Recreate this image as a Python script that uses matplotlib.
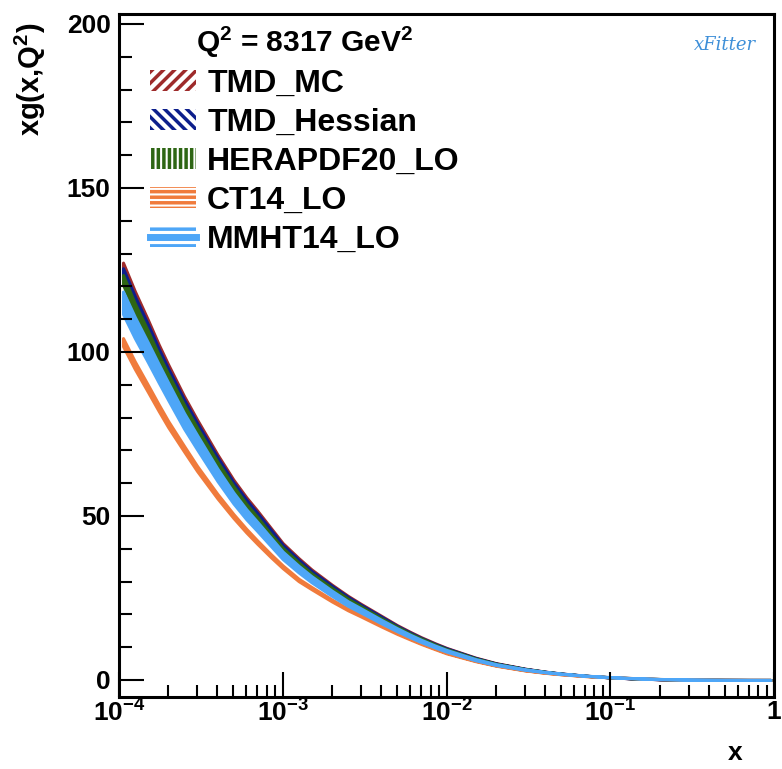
import matplotlib
matplotlib.use('Agg')
import matplotlib.pyplot as plt
from matplotlib.patches import Patch
from matplotlib.lines import Line2D
import numpy as np

plt.rcParams['font.family'] = ['Liberation Sans', 'DejaVu Sans']
plt.rcParams['font.weight'] = 'bold'
plt.rcParams['mathtext.fontset'] = 'custom'
plt.rcParams['mathtext.rm'] = 'Liberation Sans:bold'
plt.rcParams['mathtext.bf'] = 'Liberation Sans:bold'
plt.rcParams['mathtext.it'] = 'Liberation Sans:bold'
plt.rcParams['hatch.linewidth'] = 2.5

# ---- data ----
x_vals = [1.06e-4, 1.25e-4, 1.5e-4, 1.75e-4, 2e-4, 2.5e-4, 3e-4, 4e-4, 5e-4,
          6e-4, 7e-4, 8.5e-4, 1e-3, 1.25e-3, 1.5e-3, 2e-3, 2.5e-3, 3e-3,
          4e-3, 5e-3, 6e-3, 7e-3, 8.5e-3, 1e-2, 1.5e-2, 2e-2, 3e-2, 4e-2,
          5e-2, 7e-2, 0.1, 0.15, 0.2, 0.3, 0.5, 0.7, 0.95]

tmd_mc = [125, 116.5, 108, 100.5, 94.5, 85, 78, 67.5, 60, 54.7, 50.7, 45.4,
          41, 36.5, 33.1, 28.5, 25.2, 22.8, 19.2, 16.4, 14.4, 12.8, 11.0, 9.6,
          6.7, 5.05, 3.4, 2.5, 1.95, 1.3, 0.8, 0.42, 0.25, 0.1, 0.02, 0.0, 0.0]
tmd_hess = [124.3, 115.9, 107.5, 100, 94, 84.6, 77.6, 67.2, 59.7, 54.4, 50.4,
            45.2, 40.8, 36.3, 32.9, 28.4, 25.1, 22.7, 19.1, 16.3, 14.3, 12.7,
            10.9, 9.55, 6.65, 5.0, 3.38, 2.48, 1.93, 1.29, 0.79, 0.41, 0.24,
            0.09, 0.02, 0.0, 0.0]
hera = [122, 113.5, 105.3, 98, 92.2, 82.9, 76, 65.7, 58.4, 53, 49.1, 43.8,
        39.8, 35.4, 32.1, 27.7, 24.5, 22.2, 18.6, 16.0, 14.0, 12.5, 10.7, 9.3,
        6.5, 4.9, 3.3, 2.45, 1.9, 1.28, 0.82, 0.45, 0.28, 0.11, 0.02, 0.0, 0.0]
ct14 = [103, 96, 89, 83, 78, 70.5, 64.5, 56, 50, 45.5, 42, 37.8, 34.5, 30.5,
        28, 24.2, 21.5, 19.6, 16.5, 14.2, 12.5, 11.1, 9.5, 8.2, 5.8, 4.4,
        2.95, 2.2, 1.75, 1.2, 0.85, 0.5, 0.3, 0.12, 0.03, 0.01, 0.0]
mmht = [115, 107.5, 100, 93.5, 88, 79, 72.5, 62.5, 55.5, 50.5, 46.8, 42, 38,
        33.8, 30.7, 26.4, 23.3, 21.2, 17.8, 15.3, 13.4, 11.9, 10.2, 8.9, 6.2,
        4.7, 3.2, 2.4, 1.9, 1.3, 0.85, 0.48, 0.3, 0.12, 0.03, 0.01, 0.0]

# relative band half-widths
rel_err = {'TMD_MC': 0.018, 'TMD_Hessian': 0.010, 'HERAPDF20_LO': 0.012,
           'CT14_LO': 0.012, 'MMHT14_LO': 0.030}

names = ['TMD_MC', 'TMD_Hessian', 'HERAPDF20_LO', 'CT14_LO', 'MMHT14_LO']
series = [tmd_mc, tmd_hess, hera, ct14, mmht]
colors = ['#9e2b2b', '#0d1f8c', '#2e6614', '#f07b3c', '#4ea6f7']
hatches = ['///', '\\\\\\', '|||', '---', '--']

fig = plt.figure(figsize=(7.82, 7.69), dpi=100)
ax = fig.add_axes([0.152, 0.0936, 0.838, 0.888])

x = np.array(x_vals)
for name, y, c in zip(names, series, colors):
    y = np.array(y)
    e = np.abs(y) * rel_err[name]
    ax.fill_between(x, y - e, y + e, facecolor=c, edgecolor=c, lw=2.2)

ax.set_xscale('log')
ax.set_xlim(1e-4, 1)
ax.set_ylim(-5.2, 203)
ax.set_yticks([0, 50, 100, 150, 200])
ax.set_yticks(np.arange(0, 201, 10), minor=True)
ax.set_xticks([1e-4, 1e-3, 1e-2, 1e-1, 1])
ax.set_xticklabels([r'$10^{-4}$', r'$10^{-3}$', r'$10^{-2}$', r'$10^{-1}$', '1'])
ax.tick_params(which='both', direction='in', labelsize=19, width=1.5)
ax.tick_params(which='major', length=18, pad=6)
ax.tick_params(which='minor', length=9)
ax.tick_params(axis='x', pad=2)
for s in ax.spines.values():
    s.set_linewidth(2.2)

ax.set_ylabel(r'xg(x,Q$^2$)', fontsize=21, fontweight='bold')
ax.yaxis.set_label_coords(-0.108, 0.905)
ax.set_xlabel('x', fontsize=19, fontweight='bold')
ax.xaxis.set_label_coords(0.94, -0.064)

# legend, ROOT style
handles = []
for i, (c, h) in enumerate(zip(colors, hatches)):
    if names[i] == 'MMHT14_LO':
        handles.append((Patch(facecolor='none', edgecolor=c, hatch=h, lw=0),
                        Line2D([], [], color=c, lw=5)))
    else:
        handles.append(Patch(facecolor='none', edgecolor=c, hatch=h, lw=0))
leg = ax.legend(handles, names, loc='upper left', bbox_to_anchor=(0.008, 1.022),
                frameon=False, fontsize=23, title=r'Q$^2$ = 8317 GeV$^2$',
                title_fontproperties={'size': 21.5, 'weight': 'bold'},
                handlelength=1.45, handleheight=0.65, handletextpad=0.35,
                labelspacing=0.28, borderaxespad=0.4)

# xFitter logo
ax.text(0.925, 0.955, 'xFitter', transform=ax.transAxes, fontsize=13,
        family='DejaVu Serif', style='italic', fontweight='normal',
        color='#3e8fd8', ha='center', va='center')

fig.savefig('out.png', dpi=100)
